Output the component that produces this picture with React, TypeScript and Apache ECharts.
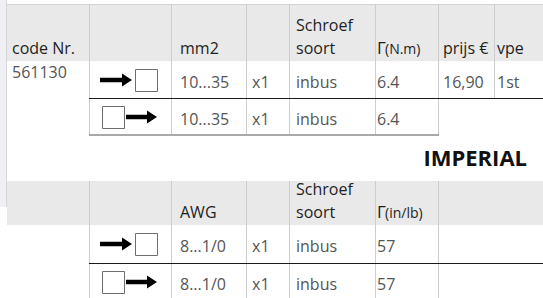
import React, { useEffect, useRef } from "react";
import * as echarts from "echarts";

// ---- data ----
const metricHeaders = ["code Nr.", "", "mm2", "", "Schroef|soort", "Γ|(N.m)", "prijs €", "vpe"];
const imperialHeaders = ["", "", "AWG", "", "Schroef|soort", "Γ|(in/lb)"];
const codeNr = "561130";
const directions = ["in", "out"];
const metricRange = ["10...35", "10...35"];
const quantity = ["x1", "x1"];
const screwType = ["inbus", "inbus"];
const torqueNm = ["6.4", "6.4"];
const price = ["16,90"];
const unitVpe = ["1st"];
const sectionTitle = "IMPERIAL";
const imperialRange = ["8...1/0", "8...1/0"];
const torqueInLb = ["57", "57"];

// ---- layout ----
const W = 543;
const H = 298;
const colX = [7, 89, 171, 246, 289, 375, 438, 494, 543];
const colPad = [5, 0, 9, 6, 7, 2, 5, 3];
const FONT = "'Open Sans', 'Noto Sans', sans-serif";
const HEAD_C = "#1e1e1e";
const VAL_C = "#555555";
const VLINE = "#cdcdcd";

function txt(x: number, baseline: number, text: string, size = 16, color = VAL_C, weight: any = "normal", align: any = "left") {
  return {
    type: "text",
    x,
    y: baseline - size * 0.39,
    silent: true,
    style: {
      text,
      fontFamily: FONT,
      fontSize: size,
      fontWeight: weight,
      fill: color,
      align,
      verticalAlign: "middle",
    },
  };
}

function line(x1: number, y1: number, x2: number, y2: number, stroke: string, lineWidth = 1) {
  return { type: "line", silent: true, shape: { x1, y1, x2, y2 }, style: { stroke, lineWidth } };
}

function arrowIcon(dir: string, cy: number) {
  const els: any[] = [];
  const box = (x: number) => ({
    type: "rect",
    silent: true,
    shape: { x: x + 0.5, y: cy - 11 + 0.5, width: 22, height: 22 },
    style: { fill: "#ffffff", stroke: "#6e6e6e", lineWidth: 1 },
  });
  const arrow = (x0: number, x1: number) => ({
    type: "polygon",
    silent: true,
    shape: {
      points: [
        [x0, cy - 2.3],
        [x1 - 10, cy - 2.3],
        [x1 - 10, cy - 6.5],
        [x1, cy],
        [x1 - 10, cy + 6.5],
        [x1 - 10, cy + 2.3],
        [x0, cy + 2.3],
      ],
    },
    style: { fill: "#000000" },
  });
  if (dir === "in") {
    els.push(arrow(100, 132));
    els.push(box(135));
  } else {
    els.push(box(102));
    els.push(arrow(126, 157));
  }
  return els;
}

function headerCell(i: number, label: string, base: number, base1: number) {
  const els: any[] = [];
  if (!label) return els;
  const x = colX[i] + colPad[i];
  if (label.startsWith("Γ|")) {
    const unit = label.split("|")[1];
    els.push(txt(colX[i] + 2, base, "Γ", 17, HEAD_C));
    els.push(txt(colX[i] + 10, base, unit, 14, HEAD_C));
  } else if (label.includes("|")) {
    const [a, b] = label.split("|");
    els.push(txt(x, base1, a, 16, HEAD_C));
    els.push(txt(x, base, b, 16, HEAD_C));
  } else {
    els.push(txt(x, base, label, 16, HEAD_C));
  }
  return els;
}

function buildGraphic() {
  const g: any[] = [];
  // left strip
  g.push({ type: "rect", silent: true, shape: { x: 0, y: 0, width: 6, height: 207 }, style: { fill: "#eef0f3" } });
  g.push(line(6.5, 0, 6.5, 207, "#d6d6d6"));

  // ---- metric table ----
  const mTop = 4, mHead = 61, mRow = 98, mBot = 135;
  g.push({ type: "rect", silent: true, shape: { x: 7, y: mTop, width: W - 7, height: mHead - mTop }, style: { fill: "#e9e9e9" } });
  g.push(line(7, mTop + 0.5, W, mTop + 0.5, "#d2d2d2"));
  for (let i = 1; i <= 7; i++) {
    const x = colX[i] + 0.5;
    const yEnd = i === 7 ? mRow : mBot;
    g.push(line(x, mTop, x, yEnd, VLINE));
  }
  g.push(line(colX[1], mRow + 0.5, W, mRow + 0.5, "#1a1a1a"));
  g.push(line(colX[1], mBot, colX[6] + 1, mBot, "#8c8c8c", 1.6));

  metricHeaders.forEach((h, i) => g.push(...headerCell(i, h, 54, 31)));

  g.push(txt(colX[0] + colPad[0], 78, codeNr));
  directions.forEach((d, r) => {
    const rowTop = r === 0 ? mHead : mRow;
    const base = rowTop + 27;
    g.push(...arrowIcon(d, rowTop + 19));
    g.push(txt(colX[2] + colPad[2], base, metricRange[r]));
    g.push(txt(colX[3] + colPad[3], base, quantity[r]));
    g.push(txt(colX[4] + colPad[4], base, screwType[r]));
    g.push(txt(colX[5] + colPad[5], base, torqueNm[r]));
    if (price[r]) g.push(txt(colX[6] + colPad[6], base, price[r]));
    if (unitVpe[r]) g.push(txt(colX[7] + colPad[7], base, unitVpe[r]));
  });

  // section title
  g.push(txt(527, 166, sectionTitle, 22, "#111111", "bold", "right"));

  // ---- imperial table ----
  const iTop = 181, iHead = 225, iRow = 263, iBot = H;
  g.push({ type: "rect", silent: true, shape: { x: 7, y: iTop, width: W - 7, height: iHead - iTop }, style: { fill: "#e9e9e9" } });
  for (let i = 1; i <= 6; i++) {
    const x = colX[i] + 0.5;
    g.push(line(x, iTop, x, iBot, VLINE));
  }
  g.push(line(colX[1], iRow + 0.5, W, iRow + 0.5, "#1a1a1a"));
  imperialHeaders.forEach((h, i) => g.push(...headerCell(i, h, 218, 195)));

  directions.forEach((d, r) => {
    const rowTop = r === 0 ? iHead : iRow;
    const base = rowTop + 27;
    g.push(...arrowIcon(d, rowTop + 19));
    g.push(txt(colX[2] + colPad[2], base, imperialRange[r]));
    g.push(txt(colX[3] + colPad[3], base, quantity[r]));
    g.push(txt(colX[4] + colPad[4], base, screwType[r]));
    g.push(txt(colX[5] + colPad[5], base, torqueInLb[r]));
  });
  return g;
}

export default function App() {
  const ref = useRef<HTMLDivElement>(null);
  useEffect(() => {
    if (!ref.current) return;
    const chart = echarts.init(ref.current, null, { renderer: "svg" });
    chart.setOption({
      animation: false,
      backgroundColor: "#ffffff",
      graphic: { elements: buildGraphic() },
    });
    return () => chart.dispose();
  }, []);
  return (
    <div
      ref={ref}
      style={{ position: "fixed", left: 0, top: 0, width: W, height: H, background: "#fff" }}
    />
  );
}
